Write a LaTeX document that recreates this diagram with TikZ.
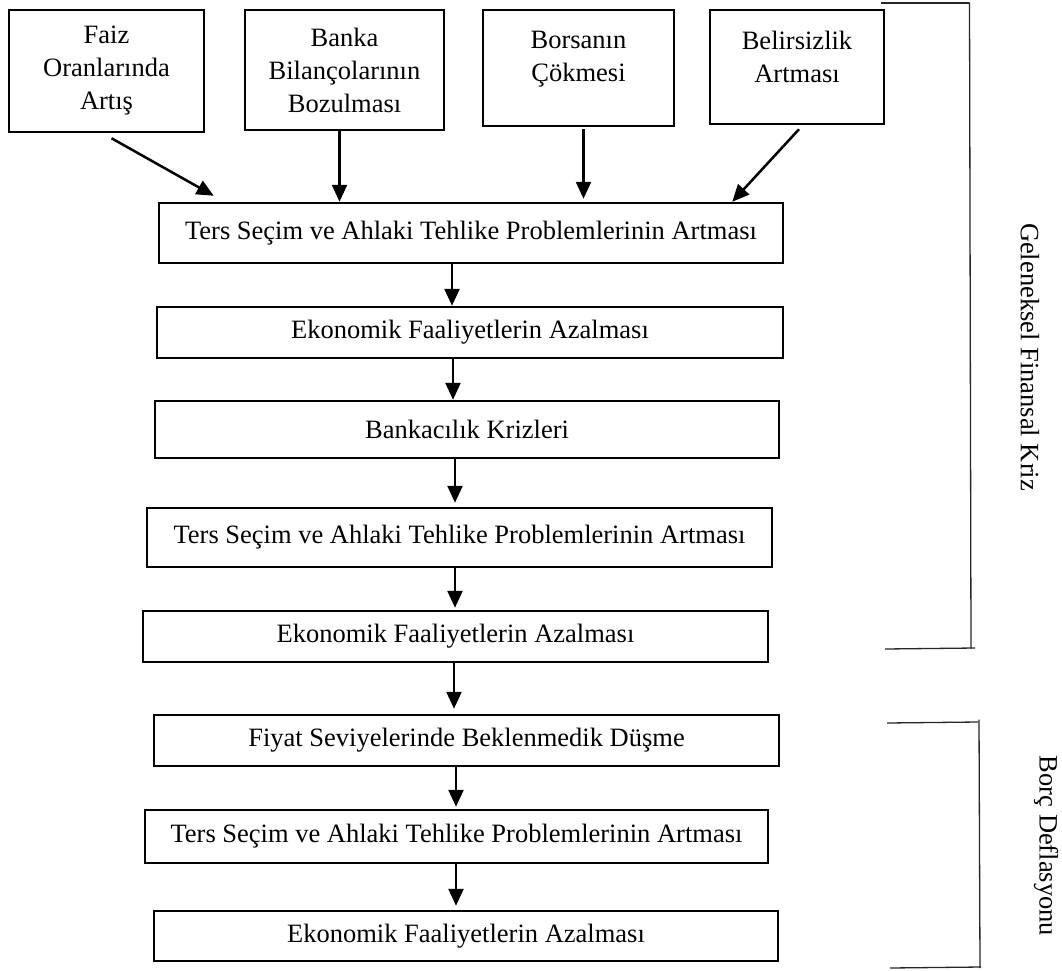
\documentclass[tikz,border=0pt]{standalone}
\usepackage{fontspec}
\setmainfont{Liberation Serif}
\usetikzlibrary{arrows.meta}
\begin{document}
\begin{tikzpicture}[x=1pt,y=-1pt,
  box/.style={draw, line width=2.5pt, rectangle, inner sep=0pt, align=center,
    font=\fontsize{26.5}{33}\selectfont},
  txt/.style={inner sep=0pt, align=center, font=\fontsize{26.5}{33}\selectfont},
  arr/.style={line width=2.5pt, -{Triangle[length=17pt,width=15pt]}},
  brk/.style={line width=1.3pt, draw=black!85},
  lbl/.style={inner sep=0pt, font=\fontsize{26.5}{33}\selectfont}
]
\useasboundingbox (0,0) rectangle (1062,971);

% top cause boxes
\node[box, minimum width=195pt, minimum height=122pt] (f1) at (106.5,71) {Faiz\\Oranlarında\\Artış};
\node[box, minimum width=199pt, minimum height=120pt] (f2) at (344.5,70) {Banka\\Bilançolarının\\Bozulması};
\node[box, minimum width=191pt, minimum height=116pt] (f3) at (578.5,68) {};
\node[txt, anchor=north] (f3t) at (578.5,31) {Borsanın\\Çökmesi};
\node[box, minimum width=174pt, minimum height=114pt] (f4) at (797,67) {};
\node[txt, anchor=north] (f4t) at (797,31) {Belirsizlik\\Artması};

% main chain
\node[box, minimum width=624pt, minimum height=60pt] (r1) at (471,233) {Ters Seçim ve Ahlaki Tehlike Problemlerinin Artması};
\node[box, minimum width=626pt, minimum height=51pt] (r2) at (470,332.5) {Ekonomik Faaliyetlerin Azalması};
\node[box, minimum width=624pt, minimum height=57pt] (r3) at (467,429.5) {Bankacılık Krizleri};
\node[box, minimum width=625pt, minimum height=59pt] (r4) at (459.5,537.5) {Ters Seçim ve Ahlaki Tehlike Problemlerinin Artması};
\node[box, minimum width=625pt, minimum height=51pt] (r5) at (455.5,636.5) {Ekonomik Faaliyetlerin Azalması};
\node[box, minimum width=625pt, minimum height=51pt] (r6) at (466.5,740.5) {Fiyat Seviyelerinde Beklenmedik Düşme};
\node[box, minimum width=623pt, minimum height=53pt] (r7) at (456.5,836.5) {Ters Seçim ve Ahlaki Tehlike Problemlerinin Artması};
\node[box, minimum width=624pt, minimum height=50pt] (r8) at (466,936) {Ekonomik Faaliyetlerin Azalması};

% arrow x positions
\coordinate (bx) at (339.5,0);
\coordinate (cx) at (583.5,0);
\coordinate (x1) at (452,0);
\coordinate (x2) at (453,0);
\coordinate (x3) at (455,0);
\coordinate (x4) at (455,0);
\coordinate (x5) at (454,0);
\coordinate (x6) at (456,0);
\coordinate (x7) at (456,0);

% arrows from top boxes
\draw[arr] ([xshift=5pt,yshift=-5pt]f1.south) -- ([xshift=56pt,yshift=6pt]r1.north west);
\draw[arr] (f2.south -| bx) -- (r1.north -| bx);
\draw[arr] ([yshift=-2pt]f3.south -| cx) -- ([yshift=3pt]r1.north -| cx);
\draw[arr] ([xshift=2pt,yshift=-4pt]f4.south) -- ([xshift=-52pt]r1.north east);

% chain arrows
\draw[arr] (r1.south -| x1) -- (r2.north -| x1);
\draw[arr] (r2.south -| x2) -- (r3.north -| x2);
\draw[arr] (r3.south -| x3) -- ([yshift=4pt]r4.north -| x3);
\draw[arr] (r4.south -| x4) -- ([yshift=2pt]r5.north -| x4);
\draw[arr] (r5.south -| x5) -- ([yshift=5pt]r6.north -| x5);
\draw[arr] (r6.south -| x6) -- ([yshift=2pt]r7.north -| x6);
\draw[arr] (r7.south -| x7) -- ([yshift=4pt]r8.north -| x7);

% brackets
\draw[brk] (881,3) -- (969,3);
\draw[brk] (969.5,2.5) -- (971,648.5);
\draw[brk] (885,649) -- (975,648);
\draw[brk] (887,723) -- (978,722);
\draw[brk] (979,719.5) -- (980,968);
\draw[brk] (890,968) -- (981,967);

% side labels
\node[lbl, rotate=-90] (g) at (1030,357) {Geleneksel Finansal Kriz};
\node[lbl, rotate=-90] (d) at (1046,846) {Borç Deflasyonu};
\end{tikzpicture}
\end{document}
